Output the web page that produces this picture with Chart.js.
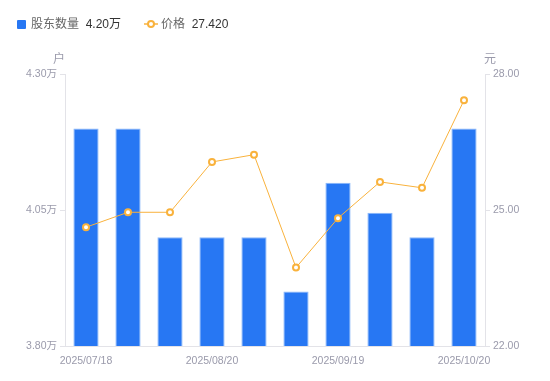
<!DOCTYPE html>
<html>
<head>
<meta charset="utf-8">
<script src="https://cdn.jsdelivr.net/npm/chart.js"></script>
<style>
  body { margin: 0; background: #fff; font-family: "Liberation Sans", "Noto Sans CJK SC", sans-serif; }
  #wrap { position: relative; width: 550px; height: 381px; }
  #legend { position: absolute; left: 17px; top: 16px; font-size: 12px; color: #333; white-space: nowrap; }
  #legend .item { position: absolute; top: 0; line-height: 16px; }
  #legend .name { color: #666; }
  #legend .sq { display: inline-block; width: 9px; height: 9px; background: #2777f3; border-radius: 1px; vertical-align: -1px; margin-right: 5px; }
</style>
</head>
<body>
<div id="wrap">
  <canvas id="chart" width="550" height="381"></canvas>
  <div id="legend">
    <span class="item" style="left:0"><span class="sq"></span><span class="name">股东数量</span>&nbsp; <span id="lg-holders"></span></span>
    <span class="item" style="left:127px"><canvas id="line-icon" width="14" height="10" style="vertical-align:-1px;margin-right:3px"></canvas><span class="name">价格</span>&nbsp; <span id="lg-price"></span></span>
  </div>
</div>
<script>
// data
const dates = ['2025/07/18', '2025/07/31', '2025/08/10', '2025/08/20', '2025/08/29', '2025/09/10', '2025/09/19', '2025/09/30', '2025/10/10', '2025/10/20'];
const holders = [4.20, 4.20, 4.00, 4.00, 4.00, 3.90, 4.10, 4.045, 4.00, 4.20]; // 万户
const prices = [24.62, 24.95, 24.95, 26.06, 26.22, 23.73, 24.82, 25.62, 25.49, 27.42];

const barColor = '#2777f3';
const lineColor = '#f9b23c';
const tickColor = '#9a9aab';
const axisColor = '#e3e3e8';

document.getElementById('lg-holders').textContent = holders[holders.length - 1].toFixed(2) + '万';
document.getElementById('lg-price').textContent = prices[prices.length - 1].toFixed(3);

// small line+circle icon for the price legend
const ic = document.getElementById('line-icon').getContext('2d');
ic.strokeStyle = lineColor;
ic.lineWidth = 1.5;
ic.beginPath(); ic.moveTo(0, 5); ic.lineTo(14, 5); ic.stroke();
ic.fillStyle = '#fff';
ic.lineWidth = 2;
ic.beginPath(); ic.arc(7, 5, 3, 0, Math.PI * 2); ic.fill(); ic.stroke();

// unit labels above each y axis
const unitLabels = {
  id: 'unitLabels',
  afterDraw(chart) {
    const ctx = chart.ctx;
    const area = chart.chartArea;
    ctx.save();
    ctx.fillStyle = tickColor;
    ctx.font = '12px "Noto Sans CJK SC", sans-serif';
    ctx.textAlign = 'center';
    ctx.textBaseline = 'middle';
    ctx.fillText('户', area.left - 6, area.top - 16);
    ctx.fillText('元', area.right + 5, area.top - 16);
    ctx.restore();
  }
};

const tickFont = { family: '"Liberation Sans", "Noto Sans CJK SC", sans-serif', size: 10.5 };

new Chart(document.getElementById('chart'), {
  data: {
    labels: dates,
    datasets: [
      {
        type: 'line',
        label: '价格',
        data: prices,
        yAxisID: 'y1',
        borderColor: lineColor,
        borderWidth: 1,
        pointBackgroundColor: '#fff',
        pointBorderColor: lineColor,
        pointBorderWidth: 2,
        pointRadius: 3,
        tension: 0,
        order: 0
      },
      {
        type: 'bar',
        label: '股东数量',
        data: holders,
        yAxisID: 'y',
        backgroundColor: barColor,
        borderColor: '#8cb8fa',
        borderWidth: 1,
        categoryPercentage: 1,
        barPercentage: 0.6,
        order: 1
      }
    ]
  },
  options: {
    responsive: false,
    animation: false,
    layout: { padding: { top: 74, left: 0, right: 0, bottom: 0 } },
    plugins: { legend: { display: false }, tooltip: { enabled: false } },
    scales: {
      x: {
        grid: { display: false },
        border: { display: true, color: axisColor },
        ticks: {
          color: tickColor, font: tickFont, autoSkip: false, maxRotation: 0, padding: 1,
          callback: (v, i) => (i % 3 === 0 ? dates[i] : '')
        },
        afterFit: s => { s.height = 35; }
      },
      y: {
        position: 'left',
        min: 3.8, max: 4.3,
        grid: { drawOnChartArea: false, drawTicks: true, tickLength: 5, color: axisColor },
        border: { display: true, color: axisColor },
        ticks: { stepSize: 0.25, color: tickColor, font: tickFont, padding: 3, callback: v => v.toFixed(2) + '万' },
        afterFit: s => { s.width = 65; }
      },
      y1: {
        position: 'right',
        min: 22, max: 28,
        grid: { drawOnChartArea: false, drawTicks: true, tickLength: 5, color: axisColor },
        border: { display: true, color: axisColor },
        ticks: { stepSize: 3, color: tickColor, font: tickFont, padding: 3, callback: v => v.toFixed(2) },
        afterFit: s => { s.width = 65; }
      }
    }
  },
  plugins: [unitLabels]
});
</script>
</body>
</html>
